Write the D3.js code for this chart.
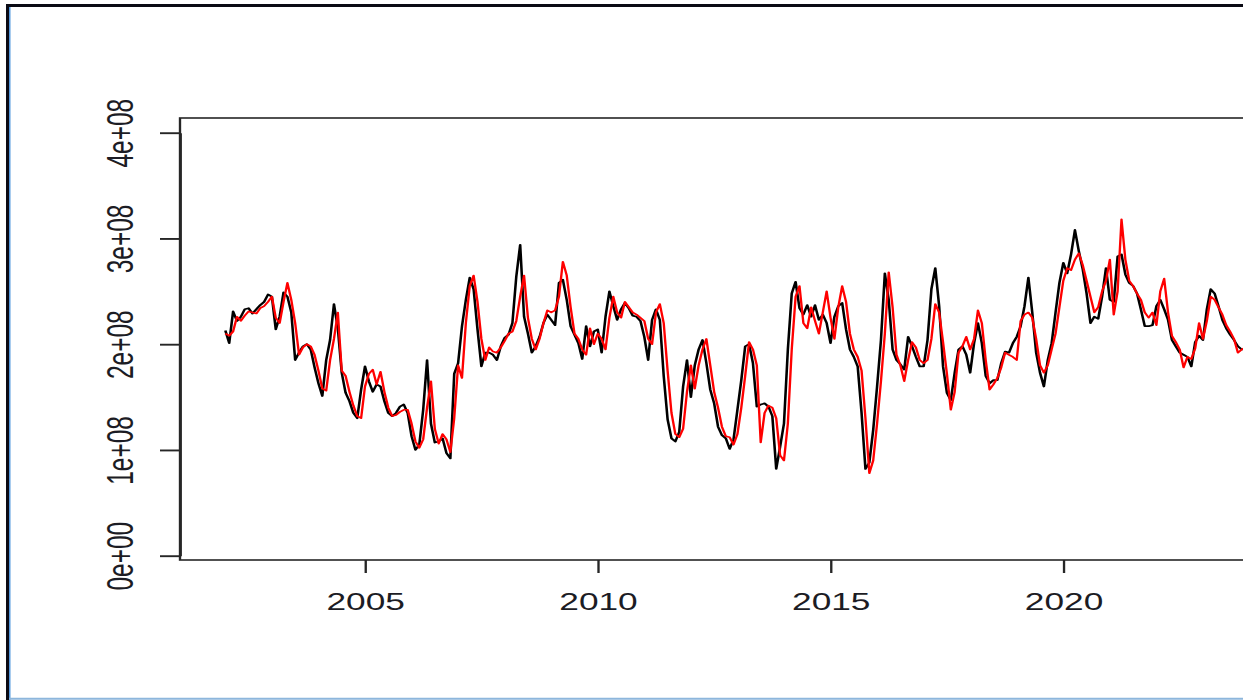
<!DOCTYPE html>
<html>
<head>
<meta charset="utf-8">
<script src="https://cdn.jsdelivr.net/npm/d3@7"></script>
<style>
  html, body { margin: 0; padding: 0; background: #ffffff; overflow: hidden; }
  svg { display: block; }
</style>
</head>
<body>
<script>
// Monthly series, January 2002 onward, in units of 1e8
const startYear = 2002;
const unit = 1e8;

const actual = [
  2.13, 2.01, 2.31, 2.22, 2.26, 2.33, 2.34, 2.29, 2.33, 2.37, 2.40, 2.47, // 2002
  2.45, 2.14, 2.26, 2.49, 2.45, 2.30, 1.85, 1.92, 1.98, 2.00, 1.95, 1.78, // 2003
  1.63, 1.51, 1.85, 2.04, 2.38, 2.15, 1.73, 1.54, 1.46, 1.35, 1.30, 1.57, // 2004
  1.79, 1.65, 1.55, 1.62, 1.60, 1.46, 1.35, 1.32, 1.35, 1.41, 1.43, 1.35, // 2005
  1.13, 1.00, 1.05, 1.38, 1.85, 1.25, 1.07, 1.08, 1.11, 0.97, 0.92, 1.72, // 2006
  1.82, 2.17, 2.42, 2.63, 2.52, 2.14, 1.79, 1.92, 1.92, 1.90, 1.85, 1.98, // 2007
  2.06, 2.09, 2.20, 2.64, 2.94, 2.26, 2.10, 1.92, 1.98, 2.07, 2.20, 2.28, // 2008
  2.23, 2.18, 2.58, 2.61, 2.42, 2.17, 2.09, 2.01, 1.86, 2.17, 1.98, 2.12, // 2009
  2.14, 1.92, 2.26, 2.50, 2.36, 2.23, 2.33, 2.39, 2.34, 2.27, 2.26, 2.22, // 2010
  2.07, 1.85, 2.23, 2.33, 2.23, 1.70, 1.29, 1.11, 1.08, 1.17, 1.60, 1.85, // 2011
  1.50, 1.80, 1.95, 2.04, 1.82, 1.57, 1.44, 1.22, 1.14, 1.11, 1.01, 1.10, // 2012
  1.38, 1.66, 1.98, 2.00, 1.82, 1.41, 1.43, 1.44, 1.41, 1.32, 0.82, 1.03, // 2013
  1.25, 1.95, 2.48, 2.59, 2.34, 2.28, 2.37, 2.26, 2.37, 2.23, 2.28, 2.20, // 2014
  2.01, 2.26, 2.36, 2.39, 2.14, 1.95, 1.88, 1.79, 1.35, 0.82, 0.88, 1.19, // 2015
  1.60, 2.04, 2.67, 2.42, 1.95, 1.85, 1.81, 1.76, 2.07, 1.98, 1.88, 1.79, // 2016
  1.79, 2.04, 2.52, 2.72, 2.36, 1.79, 1.54, 1.47, 1.73, 1.95, 1.98, 1.90, // 2017
  1.73, 2.01, 2.20, 2.01, 1.70, 1.63, 1.66, 1.66, 1.82, 1.93, 1.92, 2.01, // 2018
  2.07, 2.17, 2.36, 2.63, 2.30, 1.92, 1.73, 1.60, 1.85, 2.01, 2.30, 2.58, // 2019
  2.77, 2.67, 2.85, 3.08, 2.88, 2.71, 2.48, 2.20, 2.26, 2.24, 2.45, 2.72, // 2020
  2.42, 2.40, 2.83, 2.85, 2.66, 2.58, 2.55, 2.48, 2.33, 2.17, 2.17, 2.18, // 2021
  2.36, 2.42, 2.33, 2.23, 2.04, 1.98, 1.92, 1.90, 1.88, 1.79, 2.02, 2.08, // 2022
  2.04, 2.33, 2.52, 2.48, 2.36, 2.23, 2.15, 2.09, 2.04, 1.98, 1.95, 1.95  // 2023
];

const fitted = [
  2.10, 2.08, 2.12, 2.26, 2.22, 2.27, 2.31, 2.30, 2.29, 2.34, 2.36, 2.40, // 2002
  2.45, 2.25, 2.20, 2.40, 2.58, 2.42, 2.20, 1.90, 1.97, 2.00, 1.98, 1.90, // 2003
  1.75, 1.58, 1.56, 1.85, 2.05, 2.30, 1.75, 1.70, 1.55, 1.42, 1.32, 1.30, // 2004
  1.60, 1.72, 1.76, 1.62, 1.74, 1.55, 1.40, 1.32, 1.33, 1.36, 1.38, 1.38, // 2005
  1.25, 1.08, 1.02, 1.10, 1.40, 1.65, 1.20, 1.06, 1.15, 1.10, 0.98, 1.30, // 2006
  1.80, 1.68, 2.20, 2.55, 2.65, 2.40, 2.05, 1.85, 1.97, 1.93, 1.92, 1.97, // 2007
  2.03, 2.10, 2.12, 2.22, 2.45, 2.65, 2.25, 2.05, 1.95, 2.05, 2.20, 2.32, // 2008
  2.30, 2.32, 2.45, 2.78, 2.65, 2.35, 2.10, 2.05, 1.95, 1.90, 2.15, 2.00, // 2009
  2.10, 2.05, 1.95, 2.25, 2.45, 2.30, 2.25, 2.40, 2.35, 2.30, 2.28, 2.25, // 2010
  2.22, 2.05, 2.00, 2.30, 2.38, 2.20, 1.75, 1.35, 1.15, 1.12, 1.20, 1.55, // 2011
  1.80, 1.58, 1.80, 1.95, 2.05, 1.80, 1.55, 1.40, 1.22, 1.13, 1.12, 1.05, // 2012
  1.15, 1.40, 1.70, 2.02, 1.95, 1.80, 1.07, 1.35, 1.42, 1.40, 1.30, 0.95, // 2013
  0.90, 1.25, 1.95, 2.45, 2.55, 2.20, 2.15, 2.35, 2.22, 2.10, 2.30, 2.50, // 2014
  2.25, 2.05, 2.35, 2.55, 2.40, 2.10, 1.95, 1.88, 1.75, 1.30, 0.78, 0.90, // 2015
  1.25, 1.65, 2.10, 2.68, 2.35, 1.90, 1.80, 1.65, 1.85, 2.02, 1.97, 1.85, // 2016
  1.82, 1.85, 2.05, 2.38, 2.30, 2.02, 1.72, 1.38, 1.55, 1.92, 1.98, 2.07, // 2017
  1.95, 2.05, 2.32, 2.20, 1.85, 1.57, 1.62, 1.68, 1.78, 1.92, 1.90, 1.88, // 2018
  1.85, 2.22, 2.28, 2.30, 2.25, 2.05, 1.80, 1.73, 1.80, 1.95, 2.10, 2.35, // 2019
  2.60, 2.72, 2.70, 2.80, 2.86, 2.75, 2.60, 2.45, 2.30, 2.35, 2.50, 2.60, // 2020
  2.80, 2.28, 2.50, 3.18, 2.80, 2.60, 2.55, 2.48, 2.42, 2.30, 2.25, 2.30, // 2021
  2.18, 2.50, 2.62, 2.30, 2.08, 2.02, 1.95, 1.78, 1.88, 1.86, 1.96, 2.20, // 2022
  2.05, 2.22, 2.45, 2.42, 2.35, 2.28, 2.18, 2.12, 2.05, 1.92, 1.95, 1.97  // 2023
];

const yTicks = [0, 1e8, 2e8, 3e8, 4e8];
const yTickLabels = ["0e+00", "1e+08", "2e+08", "3e+08", "4e+08"];
const xTicks = [2005, 2010, 2015, 2020];

// ---- drawing ----
const W = 1243, H = 700;
const sx = 1.47; // horizontal stretch of the whole plotting device

const svg = d3.select("body").append("svg")
  .attr("width", W).attr("height", H);

svg.append("rect").attr("width", W).attr("height", H).attr("fill", "#ffffff");

const g = svg.append("g").attr("transform", `scale(${sx},1)`);

const x = d3.scaleLinear().domain([2005, 2020]).range([365 / sx, 1063.3 / sx]);
const y = d3.scaleLinear().domain([0, 4e8]).range([555.7, 132.7]);

const boxX0 = x(2001.026), boxX1 = x(2024.8);
const boxY0 = 118, boxY1 = 560;

const axisColor = "#262626";
const fontFamily = "'Liberation Sans', Arial, sans-serif";

// series
const line = d3.line()
  .x((d, i) => x(startYear + i / 12))
  .y(d => y(d * unit));

g.append("path").datum(actual)
  .attr("d", line).attr("fill", "none")
  .attr("stroke", "#000000").attr("stroke-width", 1.75)
  .attr("stroke-linejoin", "round");

g.append("path").datum(fitted)
  .attr("d", line).attr("fill", "none")
  .attr("stroke", "#ff0000").attr("stroke-width", 1.6)
  .attr("stroke-linejoin", "round");

// plot box
g.append("rect")
  .attr("x", boxX0).attr("y", boxY0)
  .attr("width", boxX1 - boxX0).attr("height", boxY1 - boxY0)
  .attr("fill", "none").attr("stroke", axisColor).attr("stroke-width", 1.6);

// y axis
const yAxisG = g.append("g")
  .attr("transform", `translate(${boxX0},0)`)
  .call(d3.axisLeft(y).tickValues(yTicks).tickSize(20 / sx).tickSizeOuter(0)
    .tickFormat((d, i) => yTickLabels[i]));
yAxisG.select(".domain").attr("stroke", axisColor).attr("stroke-width", 1.6);
yAxisG.selectAll(".tick line").attr("stroke", axisColor).attr("stroke-width", 1.9);
yAxisG.selectAll(".tick text")
  .attr("x", 0).attr("dy", 0)
  .attr("text-anchor", "middle")
  .attr("transform", `translate(${133 / sx - boxX0},0) rotate(-90)`)
  .attr("font-family", fontFamily).attr("font-size", 24.5)
  .attr("fill", "#1c1c24");

// x axis
const xAxisG = g.append("g")
  .attr("transform", `translate(0,${boxY1})`)
  .call(d3.axisBottom(x).tickValues(xTicks).tickSize(13).tickSizeOuter(0)
    .tickFormat(d3.format("d")));
xAxisG.select(".domain").remove();
xAxisG.selectAll(".tick line").attr("stroke", axisColor).attr("stroke-width", 1.6);
xAxisG.selectAll(".tick text")
  .attr("y", 610 - boxY1).attr("dy", 0)
  .attr("font-family", fontFamily).attr("font-size", 24)
  .attr("fill", "#1c1c24");

// outer frame
svg.append("line").attr("x1", 6).attr("x2", W).attr("y1", 5.5).attr("y2", 5.5)
  .attr("stroke", "#0a0a14").attr("stroke-width", 3);
svg.append("line").attr("x1", 7.5).attr("x2", 7.5).attr("y1", 4).attr("y2", H)
  .attr("stroke", "#0a0a14").attr("stroke-width", 3);
svg.append("line").attr("x1", 9.8).attr("x2", 9.8).attr("y1", 7).attr("y2", H)
  .attr("stroke", "#2a7fd4").attr("stroke-width", 1.2);
svg.append("line").attr("x1", 9).attr("x2", W).attr("y1", 698.8).attr("y2", 698.8)
  .attr("stroke", "#8db6dc").attr("stroke-width", 2);
</script>
</body>
</html>
